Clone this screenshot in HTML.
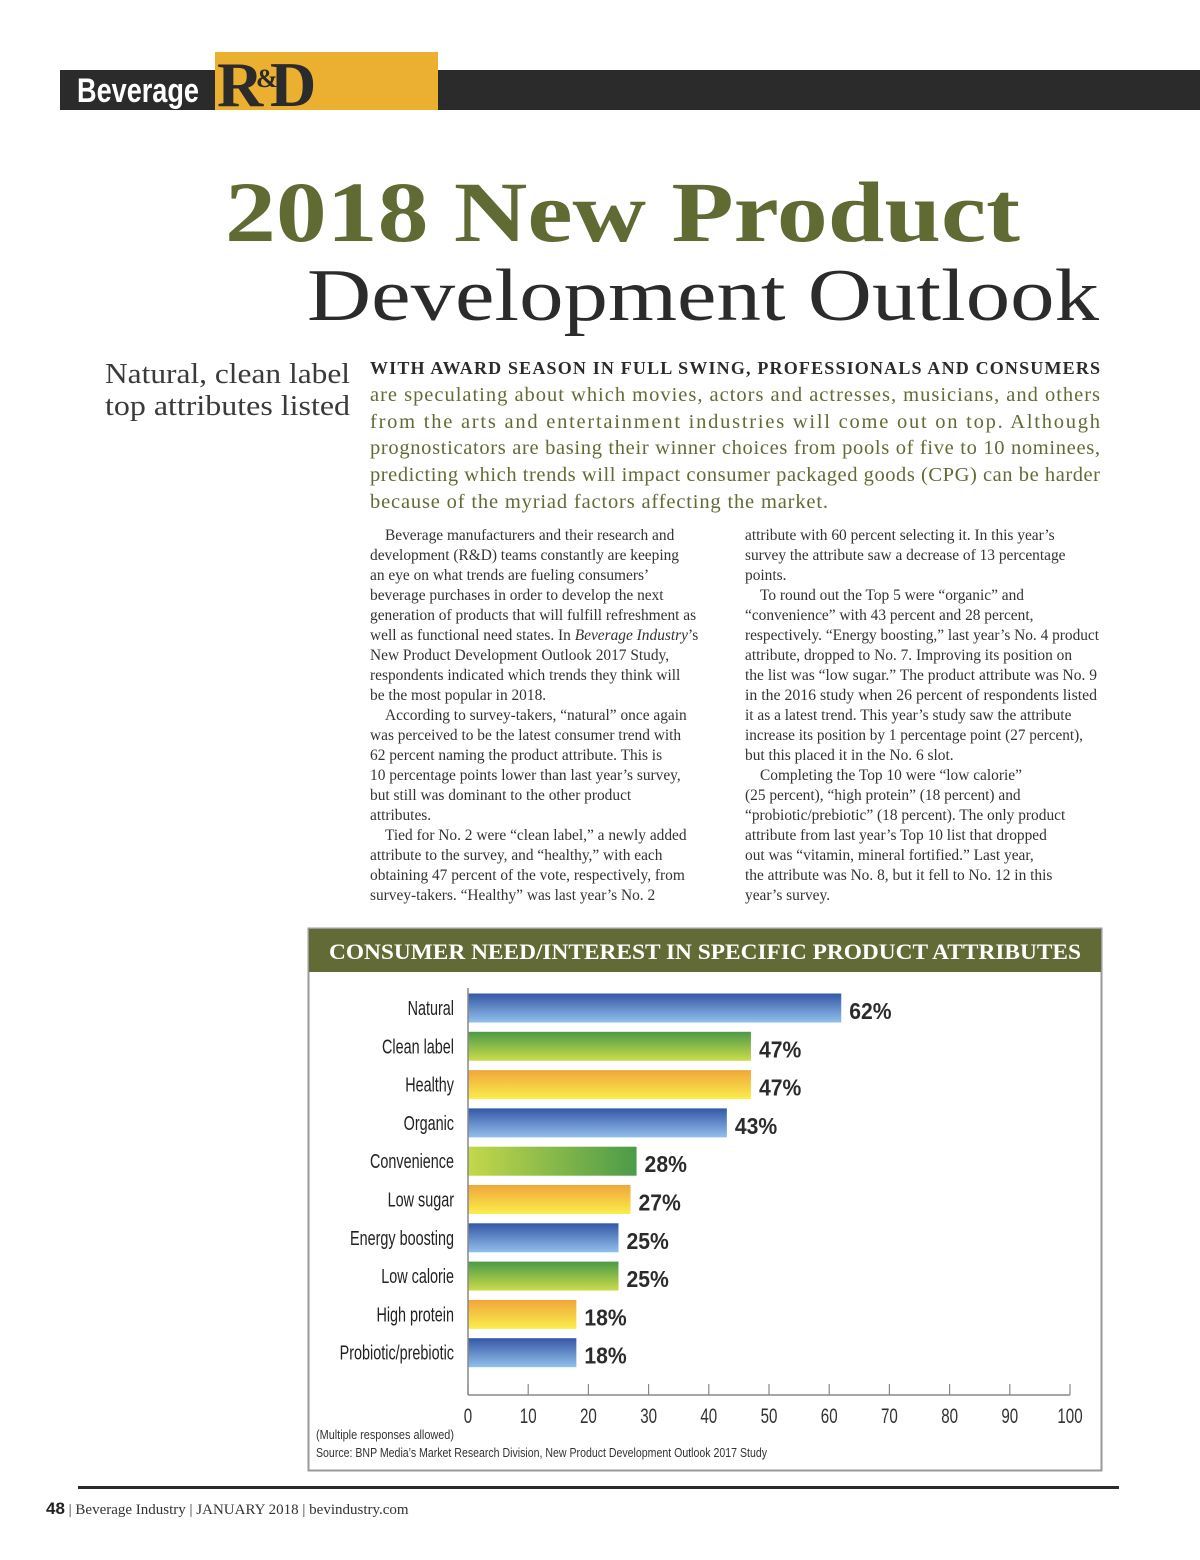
<!DOCTYPE html>
<html><head><meta charset="utf-8">
<style>
html,body{margin:0;padding:0;background:#fff;}
svg{display:block;}
.serif{font-family:"Liberation Serif","DejaVu Serif",serif;}
.body{font-family:"Liberation Serif",serif;font-size:15.4px;fill:#333;}
.cond{font-family:"Liberation Sans Narrow","Liberation Sans",sans-serif;}
</style></head>
<body>
<svg id="page" width="1200" height="1560" viewBox="0 0 1200 1560" xmlns="http://www.w3.org/2000/svg">
<defs>
<linearGradient id="gBlue" x1="0" y1="0" x2="0" y2="1"><stop offset="0" stop-color="#3557a6"/><stop offset="1" stop-color="#92c0ec"/></linearGradient>
<linearGradient id="gGreen" x1="0" y1="0" x2="0" y2="1"><stop offset="0" stop-color="#4b9a48"/><stop offset="1" stop-color="#cbdc4a"/></linearGradient>
<linearGradient id="gYellow" x1="0" y1="0" x2="0" y2="1"><stop offset="0" stop-color="#f0a63a"/><stop offset="1" stop-color="#faee4c"/></linearGradient>
<linearGradient id="gGreenH" x1="0" y1="0" x2="1" y2="0"><stop offset="0" stop-color="#c4d84a"/><stop offset="1" stop-color="#4c9a4a"/></linearGradient>
</defs>

<g>
<rect x="60" y="70" width="1140" height="40" fill="#2b2b2b"/>
<rect x="215" y="52" width="223" height="58" fill="#ebb030"/>
<text x="77" y="102" font-family="Liberation Sans, sans-serif" font-weight="bold" font-size="34" fill="#fff" textLength="122" lengthAdjust="spacingAndGlyphs">Beverage</text>
<text x="217" y="106" class="serif" font-weight="bold" font-size="64" fill="#2b2b2b">R</text>
<text x="256" y="87" class="serif" font-weight="bold" font-size="26" fill="#2b2b2b">&amp;</text>
<text x="270" y="106" class="serif" font-weight="bold" font-size="64" fill="#2b2b2b">D</text>
</g>

<text x="225" y="241" class="serif" font-weight="bold" font-size="86" fill="#5f6b33" textLength="795" lengthAdjust="spacingAndGlyphs">2018 New Product</text>
<text x="307" y="320" class="serif" font-size="74" fill="#2b2b2b" textLength="792" lengthAdjust="spacingAndGlyphs">Development Outlook</text>

<g class="serif" font-size="28" fill="#3a3a3a">
<text x="350" y="383" text-anchor="end" textLength="245" lengthAdjust="spacingAndGlyphs">Natural, clean label</text>
<text x="350" y="415" text-anchor="end" textLength="245" lengthAdjust="spacingAndGlyphs">top attributes listed</text>
</g>

<g class="serif" font-size="20.5" fill="#606b35">
<text x="370" y="374" font-weight="bold" fill="#2b2b2b" font-size="18" textLength="730" lengthAdjust="spacing">WITH AWARD SEASON IN FULL SWING, PROFESSIONALS AND CONSUMERS</text>
<text x="370" y="401" textLength="730" lengthAdjust="spacing">are speculating about which movies, actors and actresses, musicians, and others</text>
<text x="370" y="428" textLength="730" lengthAdjust="spacing">from the arts and entertainment industries will come out on top. Although</text>
<text x="370" y="454" textLength="730" lengthAdjust="spacing">prognosticators are basing their winner choices from pools of five to 10 nominees,</text>
<text x="370" y="481" textLength="730" lengthAdjust="spacing">predicting which trends will impact consumer packaged goods (CPG) can be harder</text>
<text x="370" y="508" textLength="458" lengthAdjust="spacing">because of the myriad factors affecting the market.</text>
</g>

<g class="body">
<text x="385" y="540">Beverage manufacturers and their research and</text>
<text x="370" y="560">development (R&amp;D) teams constantly are keeping</text>
<text x="370" y="580">an eye on what trends are fueling consumers’</text>
<text x="370" y="600">beverage purchases in order to develop the next</text>
<text x="370" y="620">generation of products that will fulfill refreshment as</text>
<text x="370" y="640">well as functional need states. In <tspan font-style="italic">Beverage Industry</tspan>’s</text>
<text x="370" y="660">New Product Development Outlook 2017 Study,</text>
<text x="370" y="680">respondents indicated which trends they think will</text>
<text x="370" y="700">be the most popular in 2018.</text>
<text x="385" y="720">According to survey-takers, “natural” once again</text>
<text x="370" y="740">was perceived to be the latest consumer trend with</text>
<text x="370" y="760">62 percent naming the product attribute. This is</text>
<text x="370" y="780">10 percentage points lower than last year’s survey,</text>
<text x="370" y="800">but still was dominant to the other product</text>
<text x="370" y="820">attributes.</text>
<text x="385" y="840">Tied for No. 2 were “clean label,” a newly added</text>
<text x="370" y="860">attribute to the survey, and “healthy,” with each</text>
<text x="370" y="880">obtaining 47 percent of the vote, respectively, from</text>
<text x="370" y="900">survey-takers. “Healthy” was last year’s No. 2</text>
</g>
<g class="body">
<text x="745" y="540">attribute with 60 percent selecting it. In this year’s</text>
<text x="745" y="560">survey the attribute saw a decrease of 13 percentage</text>
<text x="745" y="580">points.</text>
<text x="760" y="600">To round out the Top 5 were “organic” and</text>
<text x="745" y="620">“convenience” with 43 percent and 28 percent,</text>
<text x="745" y="640" textLength="354" lengthAdjust="spacingAndGlyphs">respectively. “Energy boosting,” last year’s No. 4 product</text>
<text x="745" y="660">attribute, dropped to No. 7. Improving its position on</text>
<text x="745" y="680" textLength="352" lengthAdjust="spacingAndGlyphs">the list was “low sugar.” The product attribute was No. 9</text>
<text x="745" y="700" textLength="352" lengthAdjust="spacingAndGlyphs">in the 2016 study when 26 percent of respondents listed</text>
<text x="745" y="720">it as a latest trend. This year’s study saw the attribute</text>
<text x="745" y="740" textLength="338" lengthAdjust="spacingAndGlyphs">increase its position by 1 percentage point (27 percent),</text>
<text x="745" y="760">but this placed it in the No. 6 slot.</text>
<text x="760" y="780">Completing the Top 10 were “low calorie”</text>
<text x="745" y="800">(25 percent), “high protein” (18 percent) and</text>
<text x="745" y="820">“probiotic/prebiotic” (18 percent). The only product</text>
<text x="745" y="840">attribute from last year’s Top 10 list that dropped</text>
<text x="745" y="860">out was “vitamin, mineral fortified.” Last year,</text>
<text x="745" y="880">the attribute was No. 8, but it fell to No. 12 in this</text>
<text x="745" y="900">year’s survey.</text>
</g>

<g>
<rect x="308.5" y="928.5" width="793" height="542" fill="#fff" stroke="#9a9a9a" stroke-width="2"/>
<rect x="309" y="929" width="792" height="43" fill="#626b35"/>
<text x="705" y="959" text-anchor="middle" class="serif" font-weight="bold" font-size="22.5" fill="#fff" textLength="752" lengthAdjust="spacingAndGlyphs">CONSUMER NEED/INTEREST IN SPECIFIC PRODUCT ATTRIBUTES</text>
<g id="bars"></g>
<g id="axis"></g>
<text x="316" y="1439" class="cond" font-size="13" fill="#333" textLength="138" lengthAdjust="spacingAndGlyphs">(Multiple responses allowed)</text>
<text x="316" y="1457" class="cond" font-size="13" fill="#333" textLength="451" lengthAdjust="spacingAndGlyphs">Source: BNP Media’s Market Research Division, New Product Development Outlook 2017 Study</text>
</g>

<rect x="78" y="1486" width="1041" height="3" fill="#2b2b2b"/>
<text x="46" y="1514" class="serif" font-size="15" fill="#333"><tspan font-family="Liberation Sans, sans-serif" font-weight="bold" font-size="17" fill="#222">48</tspan>  | Beverage Industry | JANUARY 2018 | bevindustry.com</text>
</svg>
<script>
const categories = ["Natural","Clean label","Healthy","Organic","Convenience","Low sugar","Energy boosting","Low calorie","High protein","Probiotic/prebiotic"];
const values = [62,47,47,43,28,27,25,25,18,18];
const valueLabels = ["62%","47%","47%","43%","28%","27%","25%","25%","18%","18%"];
const fills = ["gBlue","gGreen","gYellow","gBlue","gGreenH","gYellow","gBlue","gGreen","gYellow","gBlue"];
const tickValues = [0,10,20,30,40,50,60,70,80,90,100];

const NS = "http://www.w3.org/2000/svg";
const X0 = 468, X1 = 1070, Y0 = 1008, STEP = 38.3, BH = 29, AXY = 1395;
function xScale(v){ return X0 + (X1 - X0) * v / 100; }
function yScale(i){ return Y0 + STEP * i; }
function mk(tag, attrs){ const e = document.createElementNS(NS, tag); for (const k in attrs) e.setAttribute(k, attrs[k]); return e; }

const bars = document.getElementById('bars');
categories.forEach((c, i) => {
  const cy = yScale(i);
  const r = mk('rect', {x: X0, y: cy - BH/2, width: xScale(values[i]) - X0, height: BH, fill: 'url(#' + fills[i] + ')'});
  
  
  bars.appendChild(r);
  const lab = mk('text', {x: 0, y: 0, 'text-anchor': 'end', 'font-size': 20, fill: '#222', 'class': 'cond', transform: 'translate(454,' + (cy + 7) + ') scale(0.72,1)'});
  lab.textContent = c;
  
  
  bars.appendChild(lab);
  const vl = mk('text', {x: 0, y: 0, 'font-size': 23, 'font-weight': 'bold', fill: '#2b2b2b', 'font-family': 'Liberation Sans, sans-serif', transform: 'translate(' + (xScale(values[i]) + 8) + ',' + (cy + 11) + ') scale(0.92,1)'});
  vl.textContent = valueLabels[i];
  
  
  bars.appendChild(vl);
});

const axis = document.getElementById('axis');
const yl = mk('line', {x1: X0, y1: 988, x2: X0, y2: AXY, stroke: '#888', 'stroke-width': 1.5});


axis.appendChild(yl);
const xl = mk('line', {x1: X0, y1: AXY, x2: X1, y2: AXY, stroke: '#888', 'stroke-width': 1.5});


axis.appendChild(xl);
tickValues.forEach(t => {
  const x = xScale(t);
  const tk = mk('line', {x1: x, y1: AXY - 11, x2: x, y2: AXY, stroke: '#888', 'stroke-width': 1.2});
  
  
  axis.appendChild(tk);
  const tl = mk('text', {x: 0, y: 0, 'text-anchor': 'middle', 'font-size': 21, fill: '#333', 'class': 'cond', transform: 'translate(' + x + ',1423) scale(0.72,1)'});
  tl.textContent = t;
  
  
  axis.appendChild(tl);
});
</script>
</body></html>
